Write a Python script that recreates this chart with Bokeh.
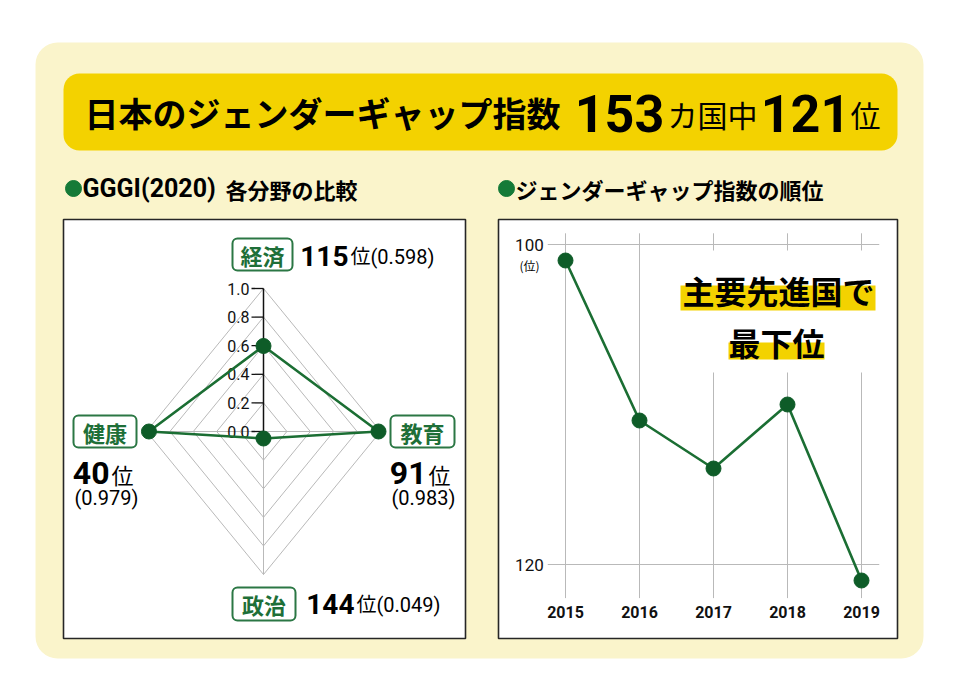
import math
from bokeh.plotting import figure
from bokeh.models import Range1d, BoxAnnotation, Label
from bokeh.core.properties import value
from bokeh.embed import file_html
from bokeh.resources import INLINE

# ---------------- data ----------------
title_main = "日本のジェンダーギャップ指数"
n_countries = "153"
country_word = "カ国中"
japan_rank = "121"
rank_word = "位"

left_header_a = "GGGI(2020)"
left_header_b = "各分野の比較"
right_header = "ジェンダーギャップ指数の順位"

radar_categories = ["経済", "教育", "政治", "健康"]
radar_angles_deg = [90, 0, -90, 180]
radar_values = [0.598, 0.983, 0.049, 0.979]
radar_ranks = ["115", "91", "144", "40"]
radar_scores = ["(0.598)", "(0.983)", "(0.049)", "(0.979)"]
radar_levels = [0.2, 0.4, 0.6, 0.8, 1.0]
radar_tick_values = [0.0, 0.2, 0.4, 0.6, 0.8, 1.0]
radar_tick_labels = ["0.0", "0.2", "0.4", "0.6", "0.8", "1.0"]

years = [2015, 2016, 2017, 2018, 2019]
year_labels = ["2015", "2016", "2017", "2018", "2019"]
ranks = [101, 111, 114, 110, 121]
rank_ticks = [100, 120]
rank_tick_labels = ["100", "120"]
rank_unit = "(位)"
note_line1 = "主要先進国で"
note_line2 = "最下位"

# ---------------- styles ----------------
JP_S = "'Noto Sans CJK JP', sans-serif"
NUM_S = "Roboto, 'Noto Sans CJK JP', sans-serif"
NUM = value(NUM_S)
CREAM = "#FAF4CB"
YELLOW = "#F3D200"
GREEN_LINE = "#1B6E33"
GREEN_DOT = "#0E5C28"
GREEN_TXT = "#1E6F38"
GREEN_BOX = "#2B7744"
GRID = "#B9B9B9"

W, H = 944, 671
M = 0  # canvas sits at the page origin; main ranges are page pixel coordinates

p = figure(width=W, height=H, output_backend="svg", toolbar_location=None,
           x_range=Range1d(M, M + W), y_range=Range1d(M + H, M),
           x_axis_location=None, y_axis_location=None, min_border=0,
           outline_line_color=None, background_fill_color="white",
           border_fill_color="white")
p.xgrid.visible = False
p.ygrid.visible = False

# line-chart ranges: year -> page x, rank -> page y
YR0_PX, YR_STEP = 565.0, 74.0
RK0_PX, RK_STEP = 244.0, 16.0
p.extra_x_ranges["yr"] = Range1d(2015 + (M - YR0_PX) / YR_STEP, 2015 + (M + W - YR0_PX) / YR_STEP)
p.extra_y_ranges["rk"] = Range1d(100 + (M + H - RK0_PX) / RK_STEP, 100 + (M - RK0_PX) / RK_STEP)

# radar ranges: unit value -> page pixels
CX, CY, SX, SY = 263.0, 431.0, 117.0, 143.0
p.extra_x_ranges["rx"] = Range1d((M - CX) / SX, (M + W - CX) / SX)
p.extra_y_ranges["ry"] = Range1d((CY - (M + H)) / SY, (CY - M) / SY)

# ---------------- background blocks ----------------
def box(l, r, t, b, fill, line=None, lw=1, radius=0, level="underlay"):
    bx = BoxAnnotation(left=l, right=r, top=t, bottom=b, fill_color=fill, fill_alpha=1,
                       line_color=line, line_alpha=1, line_width=lw, border_radius=radius,
                       level=level)
    p.add_layout(bx)
    return bx

box(35, 923, 42, 658, CREAM, radius=22, level="image")
box(63, 897, 73, 150, YELLOW, radius=16)
box(63, 465, 219, 638, "white", line="#262626", lw=1.6)
box(498, 897, 219, 638, "white", line="#262626", lw=1.6)

def label(x, y, text, font, size, color="black", align="left", bold=False):
    lb = Label(x=x, y=y, text=text, text_font=font, text_font_size=f"{size}px",
               text_color=color, text_align=align, text_baseline="middle",
               text_font_style="bold" if bold else "normal")
    p.add_layout(lb)
    return lb

# ---------------- title ----------------
label(84, 112, title_main, JP_S, 34, bold=True)
label(619, 113, n_countries, NUM_S, 52, align="center", bold=True)
label(712, 113, country_word, JP_S, 30, align="center")
label(805, 113, japan_rank, NUM_S, 52, align="center", bold=True)
label(865, 113, rank_word, JP_S, 30, align="center")

# ---------------- headers ----------------
p.scatter(x=[73, 506], y=[188, 188], size=16, color="#157A38")
label(82, 188, left_header_a, NUM_S, 25, bold=True)
label(225, 188, left_header_b, JP_S, 22, bold=True)
label(515, 188, right_header, JP_S, 22, bold=True)

# ---------------- radar chart ----------------
angles = [math.radians(a) for a in radar_angles_deg]
ring_xs, ring_ys = [], []
for lv in radar_levels:
    ring_xs.append([lv * math.cos(a) for a in angles] + [lv * math.cos(angles[0])])
    ring_ys.append([lv * math.sin(a) for a in angles] + [lv * math.sin(angles[0])])
p.multi_line(xs=ring_xs, ys=ring_ys, line_color=GRID, line_width=1,
             x_range_name="rx", y_range_name="ry")
# spokes (grey), top spoke is the black value axis
p.segment(x0=[0, 0, 0], y0=[0, 0, 0],
          x1=[math.cos(a) for a in angles[1:]], y1=[math.sin(a) for a in angles[1:]],
          line_color=GRID, line_width=1, x_range_name="rx", y_range_name="ry")
p.segment(x0=[0], y0=[0], x1=[0], y1=[radar_tick_values[-1]], line_color="#111111",
          line_width=1.5, x_range_name="rx", y_range_name="ry")
TICK = 12.0 / SX
p.segment(x0=[-TICK] * len(radar_tick_values), y0=radar_tick_values,
          x1=[0] * len(radar_tick_values), y1=radar_tick_values,
          line_color="#111111", line_width=1.3, x_range_name="rx", y_range_name="ry")
p.text(x=[-TICK] * len(radar_tick_values), y=radar_tick_values, text=radar_tick_labels,
       x_offset=-2, text_align="right", text_baseline="middle", text_font=NUM,
       text_font_size="16px", text_color="#111111", x_range_name="rx", y_range_name="ry")

rx = [v * math.cos(a) for v, a in zip(radar_values, angles)]
ry = [v * math.sin(a) for v, a in zip(radar_values, angles)]
p.line(x=rx + [rx[0]], y=ry + [ry[0]], line_color=GREEN_LINE, line_width=2.6,
       x_range_name="rx", y_range_name="ry")
p.scatter(x=rx, y=ry, size=15, color=GREEN_DOT, x_range_name="rx", y_range_name="ry")

# category tags
tag_boxes = {"経済": (232, 292, 238, 270), "教育": (390, 454, 415, 447),
             "政治": (232, 295, 587, 620), "健康": (73, 136, 415, 447)}
for cat in radar_categories:
    l, r, t, b = tag_boxes[cat]
    box(l, r, t, b, "white", line=GREEN_BOX, lw=2, radius=5, level="annotation")
    label((l + r) / 2, (t + b) / 2, cat, JP_S, 22, color=GREEN_TXT, align="center", bold=True)

# rank / score annotations
label(348, 255, radar_ranks[0], NUM_S, 28, align="right", bold=True)
label(350, 256, rank_word + radar_scores[0], NUM_S, 20)
label(354, 603, radar_ranks[2], NUM_S, 28, align="right", bold=True)
label(356, 604, rank_word + radar_scores[2], NUM_S, 20)
label(109, 472, radar_ranks[3], NUM_S, 32, align="right", bold=True)
label(111, 473, rank_word, JP_S, 22)
label(74, 497, radar_scores[3], NUM_S, 20)
label(426, 472, radar_ranks[1], NUM_S, 32, align="right", bold=True)
label(428, 473, rank_word, JP_S, 22)
label(391, 497, radar_scores[1], NUM_S, 20)

# ---------------- rank line chart ----------------
X_LO, X_HI = 2014.76, 2019.24
Y_TOP, Y_BOT = 99.3, 122.1
p.segment(x0=years, x1=years, y0=[Y_TOP] * len(years), y1=[Y_BOT] * len(years),
          line_color=GRID, line_width=1, x_range_name="yr", y_range_name="rk")
p.segment(x0=[X_LO] * len(rank_ticks), x1=[X_HI] * len(rank_ticks), y0=rank_ticks, y1=rank_ticks,
          line_color=GRID, line_width=1, x_range_name="yr", y_range_name="rk")
p.text(x=[X_LO] * len(rank_ticks), y=rank_ticks, text=rank_tick_labels, x_offset=-4,
       text_align="right", text_baseline="middle", text_font=NUM, text_font_size="17px",
       text_color="#111111", x_range_name="yr", y_range_name="rk")
p.text(x=years, y=[Y_BOT] * len(years), text=year_labels, y_offset=8,
       text_align="center", text_baseline="top", text_font=NUM, text_font_size="16px",
       text_font_style="bold", text_color="#111111", x_range_name="yr", y_range_name="rk")
label(529, 265, rank_unit, JP_S, 12, align="center")

# white mask behind the note, above the grid
box(668, 880, 250, 372, "white", level="guide")

p.line(x=years, y=ranks, line_color=GREEN_LINE, line_width=2.6, x_range_name="yr", y_range_name="rk")
p.scatter(x=years, y=ranks, size=15, color=GREEN_DOT, x_range_name="yr", y_range_name="rk")

box(680, 875, 285, 310, YELLOW, level="annotation")
label(778, 289, note_line1, JP_S, 32, align="center", bold=True)
box(728, 824, 342, 359, YELLOW, level="annotation")
label(776, 341, note_line2, JP_S, 32, align="center", bold=True)

open("out.html", "w").write(file_html(p, INLINE))
